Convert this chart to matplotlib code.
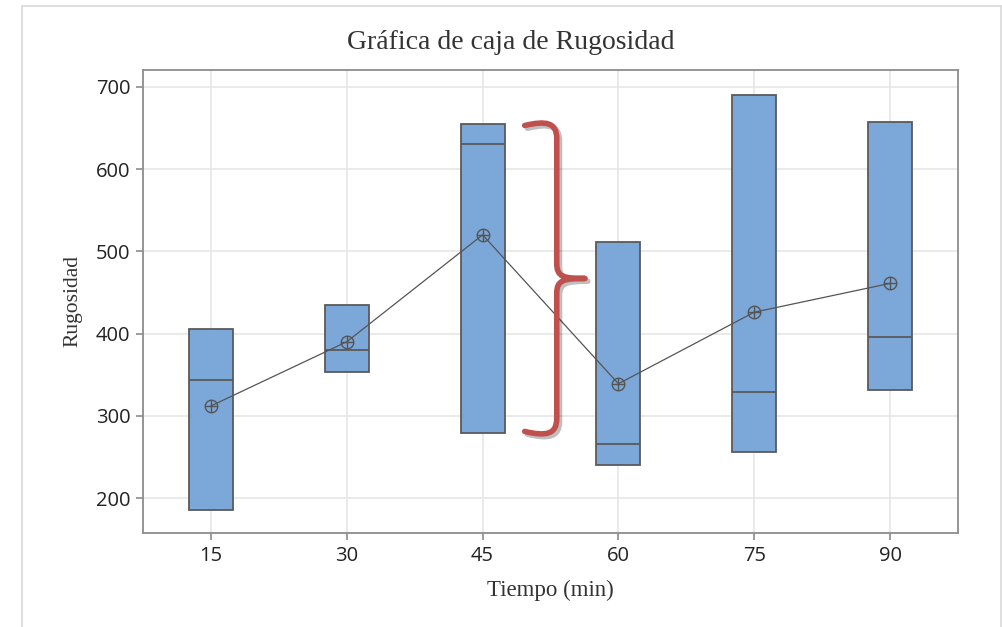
import matplotlib.pyplot as plt
import matplotlib.patheffects as pe
from matplotlib.path import Path
from matplotlib.patches import PathPatch
from matplotlib.lines import Line2D
import numpy as np

# data
tiempos = ['15', '30', '45', '60', '75', '90']
q1 = [186, 353, 279, 240, 256, 331]
q3 = [405, 435, 655, 511, 690, 657]
medianas = [344, 380, 630, 266, 329, 396]
medias = [312, 390, 520, 339, 426, 461]

fig = plt.figure(figsize=(10.03, 6.27), dpi=100)
ax = fig.add_axes([0.1426, 0.1499, 0.8125, 0.7385])

x = np.arange(1, len(tiempos) + 1)
w = 0.324
box_color = '#7BA7D9'
edge = '#5A5A5A'

ax.grid(True, color='#E6E6E6', linewidth=1.2, zorder=0)
ax.set_axisbelow(True)

alto = np.array(q3) - np.array(q1)
ax.bar(x, alto, bottom=q1, width=w, color=box_color, edgecolor=edge,
       linewidth=1.3, zorder=2)
ax.hlines(medianas, x - w / 2, x + w / 2, colors=edge, linewidth=1.3, zorder=3)

# mean connect line and symbols
ax.plot(x, medias, color='#555555', linewidth=0.9, zorder=4)
ax.plot(x, medias, linestyle='none', marker='o', markersize=9,
        markerfacecolor='none', markeredgecolor='#555555', markeredgewidth=1.0, zorder=5)
ax.plot(x, medias, linestyle='none', marker='+', markersize=9,
        markeredgecolor='#555555', markeredgewidth=1.0, zorder=5)

ax.set_xlim(0.5, 6.5)
ax.set_ylim(157.5, 720.5)
ax.set_xticks(x)
ax.set_xticklabels(tiempos)
ax.set_yticks([200, 300, 400, 500, 600, 700])

for s in ax.spines.values():
    s.set_color('#8C8C8C')
    s.set_linewidth(1.3)
ax.tick_params(direction='out', length=5, color='#8C8C8C', width=1.2,
               labelsize=14.5, labelcolor='#222222', pad=4)
for lab in ax.get_xticklabels() + ax.get_yticklabels():
    lab.set_family('Open Sans')

serif = ['Liberation Serif', 'DejaVu Serif']
ax.set_xlabel('Tiempo (min)', fontsize=16.5, family=serif, color='#333333', labelpad=10)
ax.set_ylabel('Rugosidad', fontsize=15.5, family=serif, color='#333333', labelpad=10)
fig.text(0.509, 0.933, 'Gráfica de caja de Rugosidad', ha='center', va='center',
         fontsize=20, family=serif, color='#333333')

# red curly brace next to the 45 min box
i = 2
xl = x[i] + 0.31
xs = x[i] + 0.546
xt = x[i] + 0.754
top, bot = q3[i], q1[i]
mid = (top + bot) / 2
c = 18
verts = [
    (xl, top - 2), (xs - 0.08, top + 4), (xs, top + 2), (xs, top - c),
    (xs, mid + c),
    (xs, mid + 2), (xs + 0.05, mid), (xt, mid),
    (xs + 0.05, mid), (xs, mid - 2), (xs, mid - c),
    (xs, bot + c),
    (xs, bot - 2), (xs - 0.08, bot - 4), (xl, bot + 2),
]
codes = [Path.MOVETO, Path.CURVE4, Path.CURVE4, Path.CURVE4,
         Path.LINETO,
         Path.CURVE4, Path.CURVE4, Path.CURVE4,
         Path.CURVE4, Path.CURVE4, Path.CURVE4,
         Path.LINETO,
         Path.CURVE4, Path.CURVE4, Path.CURVE4]
brace = PathPatch(Path(verts, codes), facecolor='none', edgecolor='#C0504D',
                  linewidth=4, capstyle='round', joinstyle='round', zorder=6,
                  path_effects=[pe.SimpleLineShadow(offset=(2, -2), alpha=0.25),
                                pe.Normal()])
ax.add_patch(brace)

# light frame around the whole graphic
fx0, fx1 = 22 / 1003, 1001 / 1003
fy1 = 1 - 6 / 627
for xs_, ys_ in [([fx0, fx0], [-0.1, fy1]), ([fx0, fx1], [fy1, fy1]), ([fx1, fx1], [fy1, -0.1])]:
    fig.add_artist(Line2D(xs_, ys_, color='#D9D9D9', linewidth=1.2, transform=fig.transFigure))

fig.savefig('out.png', dpi=100)
